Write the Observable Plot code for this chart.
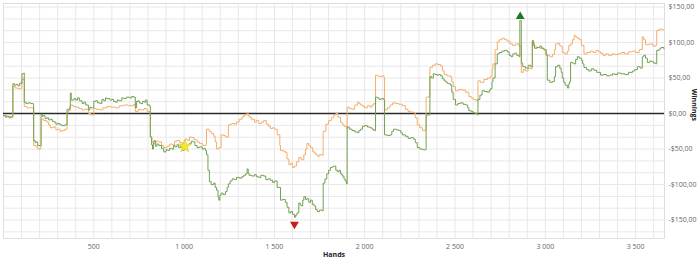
<!DOCTYPE html>
<html>
<head>
<meta charset="utf-8">
<script src="https://cdn.jsdelivr.net/npm/d3@7"></script>
<script src="https://cdn.jsdelivr.net/npm/@observablehq/plot@0.6"></script>
<style>
  html, body { margin: 0; padding: 0; background: #fff; }
  #chart svg { display: block; }
</style>
</head>
<body>
<div id="chart"></div>
<script>
// Green series: [hands, winnings $]
const greenSeries = [
  [0,-3],[10,-5],[20,-4],[30,-6],[40,-5],[50,-4],[52,42],[60,40],[70,41],[80,39],[90,43],[100,42],[102,56],[112,57],[115,16],[125,14],[135,15],[150,14],[165,13],
  [167,-38],[175,-41],[180,-40],[189,-45],[205,-45],[208,-1],[215,-4],[220,-3],[230,-7],[240,-6],[250,-9],[259,-8],[270,-11],[280,-12],[290,-15],[300,-14],[312,-16],[324,-17],[340,-16],
  [352,6],[365,8],[370,29],[375,19],[390,21],[400,19],[410,22],[420,18],[435,14],[445,16],[455,12],[470,5],[478,9],[485,8],[500,17],[510,18],[520,15],[536,14],[545,20],[555,18],[565,22],
  [573,21],[590,19],[600,20],[610,17],[620,16],[630,19],[640,18],[655,22],[665,21],[680,23],[700,22],[710,24],[721,23],[730,8],[737,17],[745,18],[752,15],[760,14],[770,17],[780,16],[787,19],[795,12],[810,10],
  [813,-33],[820,-44],[825,-50],[830,-40],[835,-38],[841,-46],[850,-43],[860,-45],[875,-49],[887,-54],[900,-51],[910,-52],[920,-49],[933,-50],[942,-45],[950,-47],[960,-44],[970,-48],[980,-46],[990,-52],[1000,-48],[1007,-47],
  [1018,-44],[1030,-42],[1040,-39],[1050,-40],[1060,-45],[1072,-48],[1085,-47],[1100,-50],[1110,-49],[1118,-52],[1124,-58],[1132,-80],[1140,-96],[1150,-100],[1164,-98],[1172,-104],[1180,-108],[1188,-118],[1192,-122],
  [1198,-115],[1205,-112],[1215,-114],[1229,-110],[1238,-104],[1245,-99],[1255,-95],[1266,-92],[1278,-93],[1290,-90],[1305,-91],[1320,-89],[1330,-87],[1340,-85],[1349,-78],[1355,-84],[1360,-87],[1375,-88],[1390,-86],
  [1400,-89],[1413,-90],[1425,-87],[1440,-88],[1452,-93],[1465,-92],[1478,-94],[1490,-97],[1500,-95],[1515,-104],[1534,-122],[1545,-121],[1560,-125],[1570,-132],[1580,-140],[1590,-138],[1600,-142],[1611,-146],
  [1618,-143],[1625,-140],[1635,-126],[1643,-129],[1650,-130],[1657,-122],[1663,-117],[1672,-121],[1680,-120],[1690,-125],[1700,-122],[1710,-128],[1720,-130],[1728,-135],[1737,-138],[1750,-136],[1765,-137],
  [1770,-98],[1780,-92],[1790,-85],[1800,-80],[1810,-76],[1820,-75],[1829,-74],[1840,-80],[1850,-82],[1858,-80],[1866,-85],[1875,-88],[1885,-92],[1892,-95],[1899,-99],
  [1903,-19],[1915,-22],[1930,-24],[1945,-26],[1960,-27],[1968,-24],[1977,-22],[1988,-18],[2000,-17],[2015,-19],[2030,-20],[2040,-22],[2050,-24],[2060,23],[2070,22],[2080,20],[2092,21],[2106,19],
  [2110,-30],[2125,-31],[2140,-30],[2150,-25],[2160,-22],[2175,-23],[2190,-24],[2200,-27],[2208,-30],[2225,-32],[2240,-35],[2255,-34],[2270,-36],[2280,-41],[2291,-48],[2305,-50],[2320,-51],[2337,-51],
  [2340,-2],[2355,-2],[2361,52],[2370,50],[2380,56],[2390,55],[2400,54],[2410,55],[2420,53],[2430,49],[2440,46],[2450,44],[2460,42],[2475,40],[2482,30],[2490,20],[2503,12],[2515,14],[2530,15],[2545,13],[2560,12],[2570,8],
  [2577,4],[2590,3],[2600,1],[2612,0],[2623,-2],[2627,20],[2638,26],[2650,32],[2665,31],[2680,30],[2690,33],[2697,35],[2705,45],[2710,50],[2722,70],[2734,84],[2745,86],[2760,88],[2775,89],[2789,87],
  [2800,82],[2810,80],[2820,84],[2830,85],[2842,82],[2854,80],[2859,131],[2863,131],[2867,71],[2875,66],[2890,64],[2905,68],[2919,66],[2928,103],[2934,96],[2940,92],[2955,93],[2970,95],[2980,92],[2992,90],[3005,82],
  [3011,47],[3025,44],[3040,45],[3050,52],[3057,66],[3068,68],[3080,64],[3088,58],[3094,50],[3102,44],[3110,40],[3122,36],[3130,42],[3135,45],[3140,72],[3150,71],[3160,70],[3168,76],[3177,80],[3188,78],[3200,75],
  [3207,70],[3214,65],[3228,62],[3240,60],[3255,63],[3269,61],[3285,58],[3306,54],[3320,55],[3340,53],[3355,54],[3372,56],[3385,55],[3400,57],[3420,56],[3440,55],[3460,58],[3483,60],[3495,62],[3510,66],
  [3525,64],[3537,80],[3545,82],[3555,78],[3565,72],[3578,74],[3590,73],[3600,71],[3611,70],[3617,89],[3630,91],[3640,93],[3657,91]
];

// Orange series: [hands, winnings $]
const orangeSeries = [
  [0,-3],[20,-4],[40,-5],[50,-4],[52,38],[65,36],[80,35],[100,37],[102,48],[112,50],[115,10],[130,8],[150,8],[165,6],
  [167,-45],[180,-47],[190,-50],[205,-48],[208,-8],[222,-10],[240,-12],[250,-16],[259,-20],[275,-19],[290,-23],[300,-22],[312,-25],[324,-24],[340,-22],
  [352,2],[360,4],[370,12],[385,10],[400,9],[418,7],[435,5],[450,6],[470,0],[485,-2],[500,7],[515,6],[536,5],[550,8],[573,10],[595,9],[620,8],[640,11],[665,12],[690,11],[721,13],
  [730,3],[745,6],[760,5],[778,7],[795,3],[810,2],[813,-33],[822,-40],[830,-42],[845,-39],[860,-40],[875,-45],[887,-48],[905,-46],[920,-43],[933,-44],[948,-39],[960,-38],[975,-41],[990,-42],[1000,-39],
  [1007,-36],[1020,-38],[1030,-33],[1040,-34],[1055,-37],[1072,-40],[1085,-42],[1100,-45],[1118,-44],[1124,-22],[1138,-25],[1150,-28],[1164,-32],[1172,-40],[1180,-50],[1192,-48],[1205,-30],[1218,-31],[1229,-33],
  [1245,-16],[1255,-15],[1266,-14],[1280,-15],[1290,-12],[1305,-8],[1320,-5],[1330,-3],[1340,-1],[1349,1],[1355,-3],[1360,-5],[1372,-8],[1390,-12],[1400,-10],[1413,-14],[1428,-12],[1440,-10],[1455,-15],
  [1468,-18],[1478,-21],[1490,-20],[1500,-22],[1515,-30],[1530,-45],[1534,-52],[1548,-53],[1560,-55],[1570,-64],[1580,-72],[1590,-70],[1600,-76],[1611,-74],[1622,-68],[1635,-62],[1648,-65],[1663,-58],
  [1672,-50],[1680,-42],[1690,-45],[1700,-48],[1712,-54],[1725,-57],[1737,-60],[1750,-58],[1765,-59],[1770,-25],[1785,-15],[1800,-10],[1815,-6],[1829,-2],[1840,0],[1852,-5],[1866,-12],[1875,-15],[1885,-18],[1899,-21],
  [1903,9],[1915,7],[1930,6],[1945,12],[1960,16],[1968,14],[1977,12],[1990,10],[2000,8],[2015,11],[2030,9],[2040,12],[2050,14],[2060,54],[2070,53],[2080,52],[2092,53],[2106,51],
  [2110,5],[2125,8],[2140,12],[2155,15],[2170,14],[2190,13],[2208,11],[2225,6],[2240,3],[2255,2],[2270,1],[2280,-6],[2291,-16],[2305,-20],[2320,-24],[2337,-20],
  [2340,23],[2355,24],[2361,65],[2375,68],[2390,70],[2405,69],[2420,67],[2430,60],[2440,55],[2455,53],[2475,52],[2482,45],[2490,38],[2503,32],[2520,34],[2540,33],[2558,30],[2577,24],[2590,22],[2600,20],[2612,19],[2623,18],
  [2627,46],[2640,44],[2660,48],[2680,50],[2697,52],[2705,62],[2710,70],[2722,90],[2734,101],[2745,104],[2760,106],[2775,104],[2789,102],[2805,98],[2820,96],[2835,98],[2854,95],
  [2867,58],[2878,62],[2890,60],[2905,64],[2919,63],[2928,100],[2940,95],[2950,93],[2970,92],[2992,90],[3000,84],[3011,82],[3025,80],[3040,83],[3050,90],[3057,98],[3070,99],[3080,95],[3094,86],[3108,84],[3122,88],
  [3130,96],[3140,98],[3150,104],[3160,110],[3168,108],[3177,106],[3190,104],[3200,96],[3214,84],[3230,86],[3250,88],[3265,86],[3280,89],[3295,87],[3306,85],[3320,82],[3335,84],[3350,82],[3370,84],[3385,83],
  [3400,84],[3420,86],[3440,84],[3460,87],[3483,88],[3500,86],[3520,90],[3537,108],[3545,104],[3555,97],[3575,98],[3595,95],[3611,96],[3617,117],[3630,119],[3645,118],[3657,118]
];

// Tick labels
const xTicks = [500, 1000, 1500, 2000, 2500, 3000, 3500];
const xTickLabels = ["500", "1 000", "1 500", "2 000", "2 500", "3 000", "3 500"];
const yTicks = [-150, -100, -50, 0, 50, 100, 150];
const yTickLabels = ["-$150,00", "-$100,00", "-$50,00", "$0,00", "$50,00", "$100,00", "$150,00"];

// Special markers
const maxPoint = [{hands: 2861, winnings: 131}];
const minPoint = [{hands: 1611, winnings: -146}];
const starPoint = [{hands: 1004, winnings: -46}];

const green = greenSeries.map(([h, w]) => ({hands: h, winnings: w}));
const orange = orangeSeries.map(([h, w]) => ({hands: h, winnings: w}));

const gridX = d3.range(0, 3700, 100);
const gridY = d3.range(-10, 10).map(k => k * 50 / 3);

const font = "'Open Sans', 'Liberation Sans', sans-serif";

const chart = Plot.plot({
  width: 700,
  height: 264,
  marginLeft: 3,
  marginRight: 36,
  marginTop: 3,
  marginBottom: 26,
  style: {fontFamily: font, fontSize: "7px", color: "#666", background: "#fff"},
  x: {domain: [0, 3660]},
  y: {domain: [-176, 155]},
  marks: [
    Plot.ruleX(gridX, {stroke: "#e8e8e8", strokeWidth: 1}),
    Plot.ruleY(gridY, {stroke: "#e8e8e8", strokeWidth: 1}),
    Plot.frame({stroke: "#dedede"}),
    Plot.ruleY([0], {stroke: "#2a2a2a", strokeWidth: 1.5}),
    Plot.line(orange, {x: "hands", y: "winnings", stroke: "#f5ad6a", strokeWidth: 1, curve: "step-after"}),
    Plot.line(green, {x: "hands", y: "winnings", stroke: "#72a052", strokeWidth: 1, curve: "step-after"}),
    Plot.dot(maxPoint, {x: "hands", y: "winnings", symbol: "triangle", r: 3.3, fill: "#1e7a1e", stroke: "none", dy: -4}),
    Plot.dot(minPoint, {x: "hands", y: "winnings", symbol: "triangle", rotate: 180, r: 3.3, fill: "#cc1a1a", stroke: "none", dy: 7}),
    Plot.dot(starPoint, {x: "hands", y: "winnings", symbol: "star", r: 4.2, fill: "#f0e63a", stroke: "#d8c820", strokeWidth: 0.5}),
    Plot.axisX({ticks: xTicks, tickFormat: d => xTickLabels[xTicks.indexOf(d)], tickSize: 0, tickPadding: 6, label: null, fill: "#666"}),
    Plot.axisY({anchor: "right", ticks: yTicks, tickFormat: d => yTickLabels[yTicks.indexOf(d)], tickSize: 0, tickPadding: 4, label: null, fill: "#666"}),
    Plot.text(["Hands"], {frameAnchor: "bottom", dy: 18, fontWeight: "bold", fill: "#222", fontSize: 7}),
    Plot.text(["Winnings"], {frameAnchor: "right", dx: 30, rotate: 90, fontWeight: "bold", fill: "#222", fontSize: 7})
  ]
});

document.getElementById("chart").appendChild(chart);
</script>
</body>
</html>
